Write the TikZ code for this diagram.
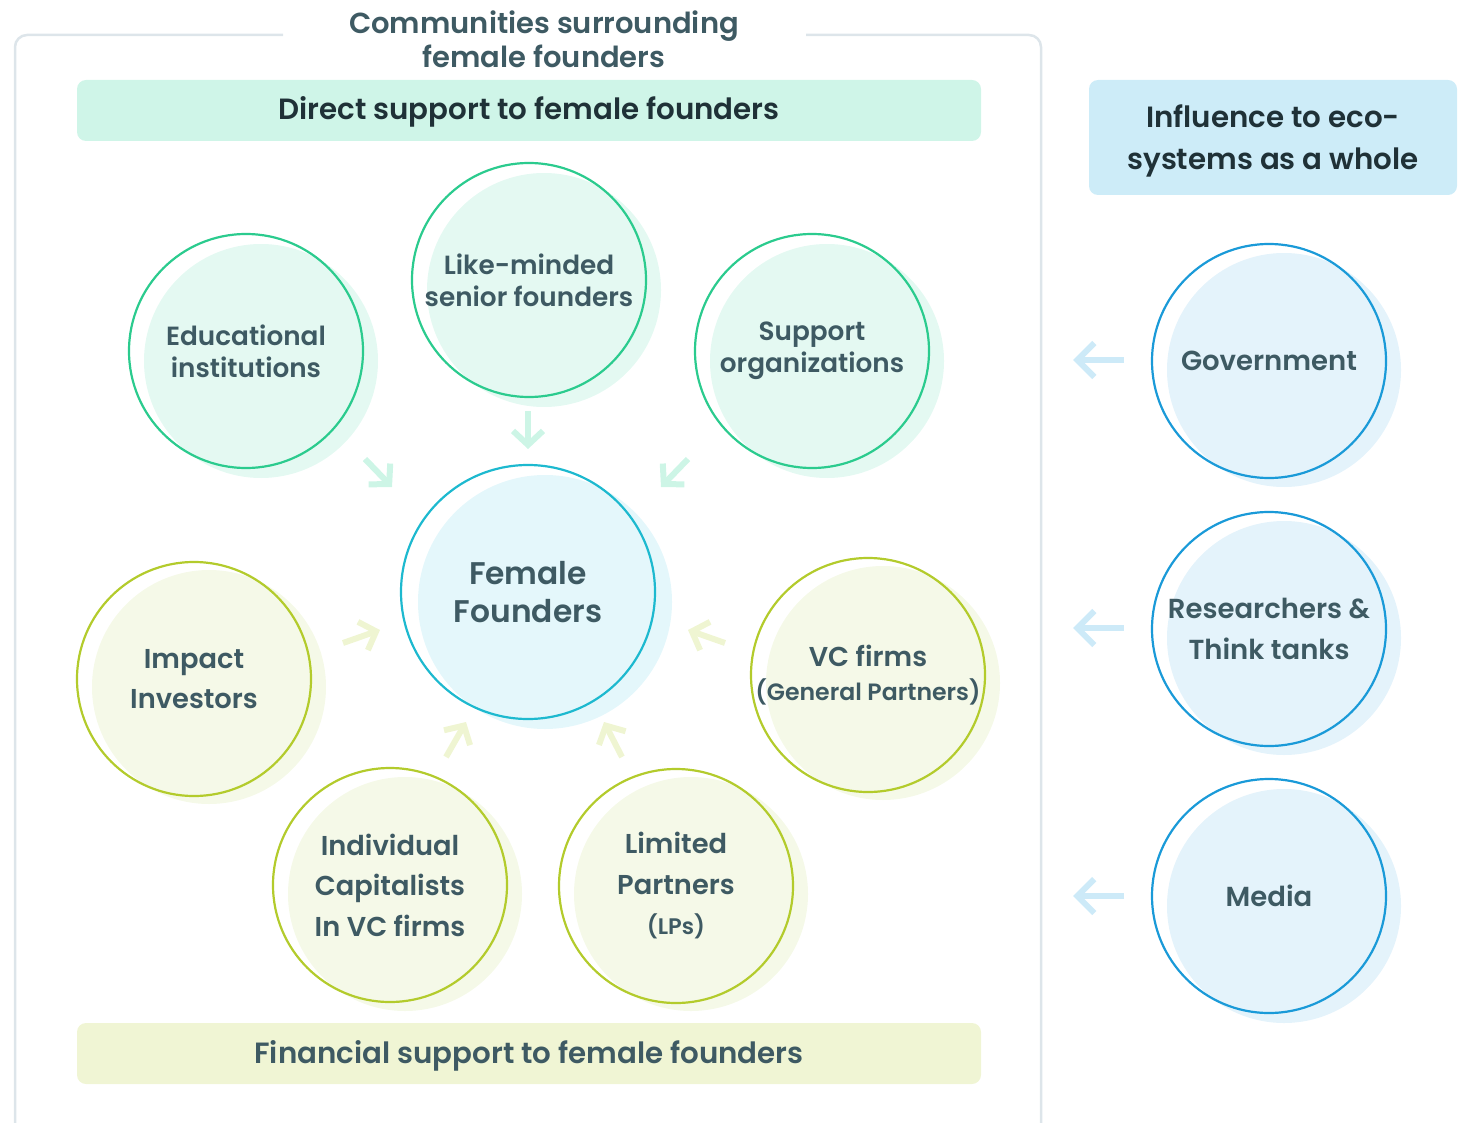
\documentclass[tikz,border=0pt]{standalone}
\usepackage{fontspec}
\setmainfont{Poppins}[UprightFont={* SemiBold}, BoldFont={* SemiBold}]
\usetikzlibrary{arrows.meta}
\definecolor{frame}{HTML}{DDE5EA}
\definecolor{ttl}{HTML}{3E5A63}
\definecolor{dark}{HTML}{1F3137}
\definecolor{mintbox}{HTML}{CFF5E8}
\definecolor{yelbox}{HTML}{F0F5D4}
\definecolor{bluebox}{HTML}{CDECF8}
\definecolor{gline}{HTML}{2BCB8E}
\definecolor{gfill}{HTML}{E4F9F2}
\definecolor{tline}{HTML}{1DB9CF}
\definecolor{tfill}{HTML}{E4F7FB}
\definecolor{yline}{HTML}{B3CB2C}
\definecolor{yfill}{HTML}{F5F9E8}
\definecolor{bline}{HTML}{1A9AD8}
\definecolor{bfill}{HTML}{E4F3FB}
\definecolor{garr}{HTML}{CDF5E6}
\definecolor{yarr}{HTML}{EFF5D2}
\definecolor{barr}{HTML}{CDEAF8}
\tikzset{
  bub/.style={circle, minimum size=234pt, inner sep=0pt, draw, line width=2.2pt, align=center, text=ttl, font=\fontsize{26.3}{32}\selectfont},
  gb/.style={bub, draw=gline},
  yb/.style={bub, draw=yline, font=\fontsize{27.3}{40.5}\selectfont},
  bb/.style={bub, draw=bline, font=\fontsize{27.5}{41}\selectfont},
  band/.style={rounded corners=9pt, inner sep=0pt},
  arrg/.style={line width=6pt, draw=garr, -{Straight Barb[length=14pt,width=30pt]}},
  arry/.style={line width=6pt, draw=yarr, -{Straight Barb[length=14pt,width=30pt]}},
  arrb/.style={line width=6pt, draw=barr, -{Straight Barb[length=17pt,width=34pt]}},
}
\newcommand\shadowdisc[4]{\fill[#4] (#1+15,#2+10) circle (#3pt);}
\begin{document}
\begin{tikzpicture}[x=1pt,y=-1pt]
\useasboundingbox (0,0) rectangle (1466,1123);
% outer frame
\draw[frame, line width=2.5pt, rounded corners=12pt] (283,35) -- (15,35) -- (15,1150) -- (1041,1150) -- (1041,35) -- (806,35);
\node[text=ttl, align=center, font=\fontsize{29}{34}\selectfont] (title) at (544,39) {Communities surrounding\\female founders};
% bands
\fill[mintbox, band] (77,80) rectangle (981,141);
\node[text=dark, font=\bfseries\fontsize{29.3}{34}\selectfont] (direct) at (529,112) {Direct support to female founders};
\fill[yelbox, band] (77,1023) rectangle (981,1084);
\node[text=ttl, font=\bfseries\fontsize{29.3}{34}\selectfont] (fin) at (529,1056) {Financial support to female founders};
\fill[bluebox, band] (1089,80) rectangle (1457,195);
\node[text=dark, align=center, font=\bfseries\fontsize{29.3}{42}\selectfont] (infl) at (1273,141) {Influence to eco-\\systems as a whole};
% shadow discs
\shadowdisc{246}{351}{117}{gfill}
\shadowdisc{529}{280}{117}{gfill}
\shadowdisc{812}{351}{117}{gfill}
\shadowdisc{530}{592}{127}{tfill}
\shadowdisc{194}{677}{117}{yfill}
\shadowdisc{868}{673}{117}{yfill}
\shadowdisc{390}{884}{117}{yfill}
\shadowdisc{676}{884}{117}{yfill}
\shadowdisc{1269}{360}{117}{bfill}
\shadowdisc{1269}{628}{117}{bfill}
\shadowdisc{1269}{896}{117}{bfill}
% bubbles
\node[gb] (edu) at (246,351) {Educational\\institutions};
\node[gb] (like) at (529,280) {Like-minded\\senior founders};
\node[gb] (sup) at (812,351) {Support\\organizations};
\node[bub, draw=tline, minimum size=254pt, font=\fontsize{31.3}{38}\selectfont] (ff) at (528,592) {Female\\Founders};
\node[yb] (imp) at (194,679) {Impact\\Investors};
\node[yb] (vc) at (868,675) {VC firms\\[-6pt]{\fontsize{23.6}{28}\selectfont(General Partners)}};
\node[yb] (ind) at (390,885) {Individual\\Capitalists\\In VC firms};
\node[yb] (lp) at (676,886) {Limited\\Partners\\{\fontsize{22.5}{28}\selectfont(LPs)}};
\node[bb] (gov) at (1269,361) {Government};
\node[bb] (res) at (1269,629) {Researchers \&\\Think tanks};
\node[bb] (med) at (1269,896) {Media};
% arrows
\coordinate (a1s) at (528,411); \coordinate (a1e) at (528,449);
\coordinate (a2s) at (365,459); \coordinate (a2e) at (392,487);
\coordinate (a3s) at (688,459); \coordinate (a3e) at (661,487);
\coordinate (a4s) at (343,643); \coordinate (a4e) at (380,630);
\coordinate (a5s) at (725,643); \coordinate (a5e) at (688,630);
\coordinate (a6s) at (446,757); \coordinate (a6e) at (466,722);
\coordinate (a7s) at (622,757); \coordinate (a7e) at (604,722);
\coordinate (b1s) at (1124,360); \coordinate (b1e) at (1073,360);
\coordinate (b2s) at (1124,628); \coordinate (b2e) at (1073,628);
\coordinate (b3s) at (1124,896); \coordinate (b3e) at (1073,896);
\draw[arrg] (a1s) -- (a1e);
\draw[arrg] (a2s) -- (a2e);
\draw[arrg] (a3s) -- (a3e);
\draw[arry] (a4s) -- (a4e);
\draw[arry] (a5s) -- (a5e);
\draw[arry] (a6s) -- (a6e);
\draw[arry] (a7s) -- (a7e);
\draw[arrb] (b1s) -- (b1e);
\draw[arrb] (b2s) -- (b2e);
\draw[arrb] (b3s) -- (b3e);
\end{tikzpicture}
\end{document}
